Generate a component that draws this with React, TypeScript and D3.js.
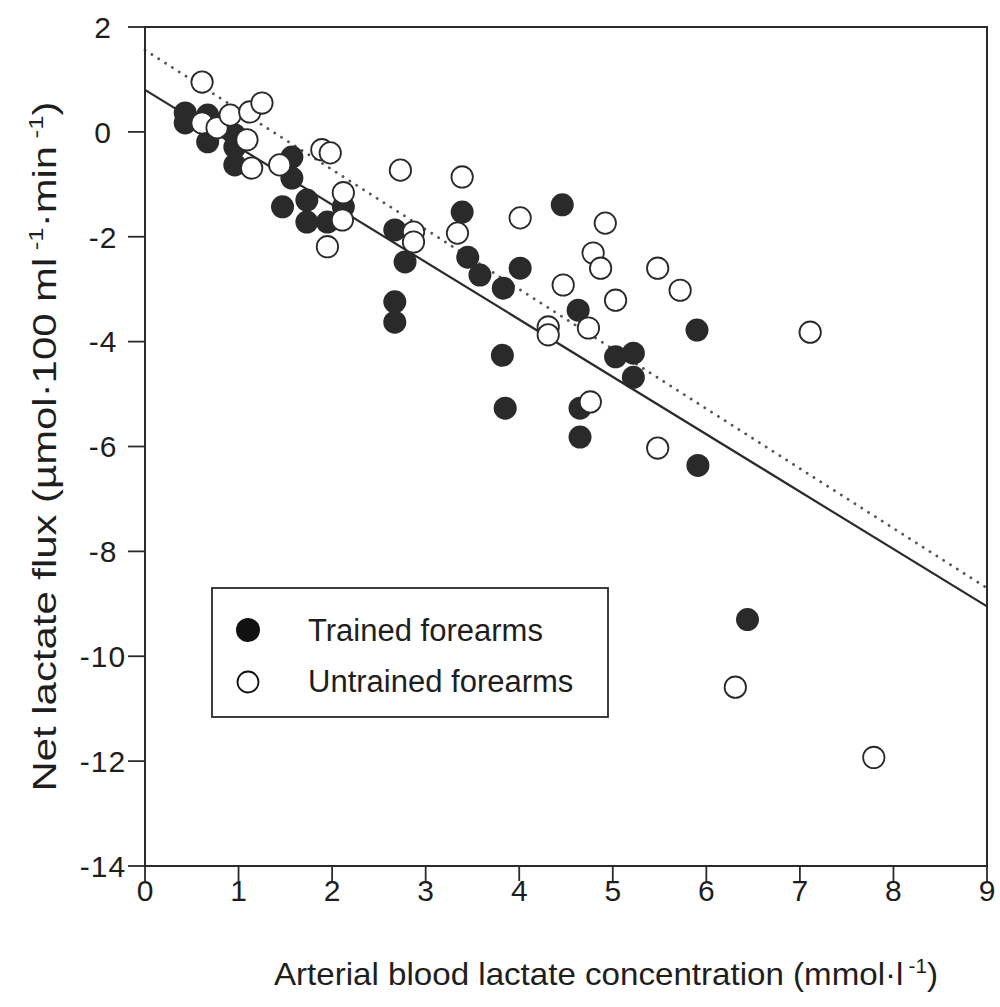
import React from "react";
import * as d3 from "d3";

// Arterial lactate (mmol/l) vs net lactate flux (µmol/100 ml/min)
const trainedX = [0.43, 0.43, 0.67, 0.67, 0.96, 0.96, 0.96, 1.57, 1.57, 1.47, 1.73, 1.73, 1.95, 2.12, 2.67, 2.78, 3.39, 3.45, 3.58, 3.83, 4.01, 2.67, 2.67, 4.46, 4.63, 5.9, 5.03, 5.22, 5.22, 3.82, 3.85, 4.65, 4.65, 5.91, 6.44];
const trainedY = [0.36, 0.17, 0.32, -0.19, -0.06, -0.29, -0.63, -0.48, -0.88, -1.43, -1.3, -1.72, -1.72, -1.43, -1.87, -2.48, -1.53, -2.39, -2.73, -2.98, -2.6, -3.24, -3.63, -1.39, -3.4, -3.78, -4.29, -4.22, -4.68, -4.26, -5.27, -5.27, -5.82, -6.36, -9.3];

const untrainedX = [0.61, 0.61, 0.77, 0.91, 1.12, 1.25, 1.09, 1.14, 1.44, 1.89, 1.98, 2.12, 2.11, 1.95, 2.73, 2.87, 2.87, 3.39, 3.34, 4.01, 4.92, 4.79, 4.87, 5.48, 5.72, 4.47, 5.03, 4.74, 4.31, 4.31, 7.11, 4.76, 5.48, 6.31, 7.79];
const untrainedY = [0.95, 0.17, 0.08, 0.32, 0.38, 0.55, -0.15, -0.69, -0.63, -0.34, -0.4, -1.16, -1.68, -2.19, -0.73, -1.91, -2.1, -0.86, -1.93, -1.64, -1.74, -2.31, -2.6, -2.6, -3.02, -2.92, -3.21, -3.74, -3.72, -3.87, -3.82, -5.15, -6.03, -10.59, -11.93];

// Regression lines, evaluated at the ends of the x range
const trainedFit: [number, number][] = [[0, 0.8], [9, -9.05]];
const untrainedFit: [number, number][] = [[0, 1.56], [9, -8.7]];

const xTicks = [0, 1, 2, 3, 4, 5, 6, 7, 8, 9];
const yTicks = [2, 0, -2, -4, -6, -8, -10, -12, -14];

const legendLabels = ["Trained forearms", "Untrained forearms"];

const INK = "#2a2a2a";
const FONT = "Arial, 'Liberation Sans', Helvetica, sans-serif";

export default function App() {
  const left = 145, right = 987, top = 27, bottom = 866;
  const x = d3.scaleLinear().domain([0, 9]).range([left, right]);
  const y = d3.scaleLinear().domain([-14, 2]).range([bottom, top]);
  const line = d3.line<[number, number]>().x(d => x(d[0])).y(d => y(d[1]));
  const r = 11.5;

  const trained = trainedX.map((v, i) => [v, trainedY[i]] as [number, number]);
  const untrained = untrainedX.map((v, i) => [v, untrainedY[i]] as [number, number]);

  return (
    <svg width={1000} height={1007} style={{ position: "absolute", left: 0, top: 0, background: "#fff" }} fontFamily={FONT}>
      <rect x={0} y={0} width={1000} height={1007} fill="#fff" />
      {/* fit lines */}
      <path d={line(untrainedFit) || ""} fill="none" stroke="#555" strokeWidth={2.8} strokeDasharray="0.1 8" strokeLinecap="round" />
      <path d={line(trainedFit) || ""} fill="none" stroke={INK} strokeWidth={2.2} />

      {/* frame */}
      <rect x={left} y={top} width={right - left} height={bottom - top} fill="none" stroke={INK} strokeWidth={2} />

      {/* y axis */}
      {yTicks.map(t => (
        <g key={"y" + t}>
          <line x1={left - 17} x2={left} y1={y(t)} y2={y(t)} stroke={INK} strokeWidth={1.8} />
          <text x={left - 42} y={y(t)} dy="0.36em" textAnchor="middle" fontSize={30} letterSpacing={1} fill="#1e1e1e">{t}</text>
        </g>
      ))}
      {/* x axis */}
      {xTicks.map(t => (
        <g key={"x" + t}>
          <line x1={x(t)} x2={x(t)} y1={bottom} y2={bottom + 15} stroke={INK} strokeWidth={1.8} />
          <text x={x(t)} y={bottom + 35} textAnchor="middle" fontSize={30} fill="#1e1e1e">{t}</text>
        </g>
      ))}

      {/* points */}
      {trained.map((d, i) => (
        <circle key={"t" + i} cx={x(d[0])} cy={y(d[1])} r={r} fill={INK} />
      ))}
      {untrained.map((d, i) => (
        <circle key={"u" + i} cx={x(d[0])} cy={y(d[1])} r={r - 0.8} fill="#fff" stroke={INK} strokeWidth={1.8} />
      ))}

      {/* legend */}
      <rect x={212} y={588} width={396} height={129} fill="#fff" stroke={INK} strokeWidth={1.8} />
      <circle cx={248} cy={630} r={12} fill="#111" />
      <text x={308} y={641} fontSize={31} fill="#1e1e1e">{legendLabels[0]}</text>
      <circle cx={248} cy={682} r={10.5} fill="#fff" stroke="#111" strokeWidth={1.8} />
      <text x={308} y={692} fontSize={31} fill="#1e1e1e">{legendLabels[1]}</text>

      {/* axis titles */}
      <text x={606} y={985} textAnchor="middle" fontSize={32} fill="#1e1e1e" textLength={664} lengthAdjust="spacingAndGlyphs">
        Arterial blood lactate concentration (mmol·l
        <tspan dx={5} dy={-12} fontSize={20}>-1</tspan>
        <tspan dy={12}>)</tspan>
      </text>
      <text transform={`translate(56, ${(top + bottom) / 2}) rotate(-90)`} textAnchor="middle" fontSize={34} fill="#1e1e1e" textLength={690} lengthAdjust="spacingAndGlyphs">
        Net lactate flux (µmol·100 ml
        <tspan dx={6} dy={-13} fontSize={21}>-1</tspan>
        <tspan dy={13}>·min</tspan>
        <tspan dx={6} dy={-13} fontSize={21}>-1</tspan>
        <tspan dy={13}>)</tspan>
      </text>
    </svg>
  );
}
